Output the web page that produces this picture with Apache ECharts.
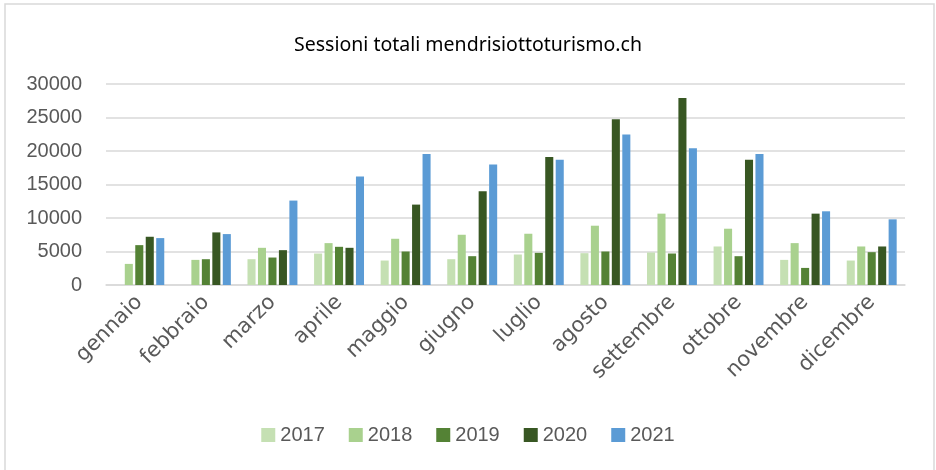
<!DOCTYPE html>
<html>
<head>
<meta charset="utf-8">
<script src="https://cdn.jsdelivr.net/npm/echarts@6/dist/echarts.min.js"></script>
<style>
html,body{margin:0;padding:0;background:#fff;}
#chart{width:936px;height:470px;}
</style>
</head>
<body>
<div id="chart"></div>
<script>
const title = 'Sessioni totali mendrisiottoturismo.ch';
const months = ['gennaio','febbraio','marzo','aprile','maggio','giugno','luglio','agosto','settembre','ottobre','novembre','dicembre'];
const years = ['2017','2018','2019','2020','2021'];
const s2017 = [null, null, 3850, 4700, 3650, 3850, 4550, 4750, 4850, 5750, 3750, 3650];
const s2018 = [3150, 3750, 5550, 6250, 6900, 7500, 7650, 8850, 10650, 8400, 6250, 5750];
const s2019 = [5950, 3850, 4100, 5700, 5000, 4300, 4800, 5000, 4700, 4300, 2550, 4900];
const s2020 = [7200, 7850, 5200, 5550, 12000, 14000, 19100, 24750, 27900, 18700, 10650, 5750];
const s2021 = [7000, 7600, 12600, 16200, 19550, 18000, 18700, 22450, 20400, 19550, 11000, 9800];
const seriesData = [s2017, s2018, s2019, s2020, s2021];
const colors = ['#c5e0b3', '#a9d18e', '#548235', '#385723', '#5b9bd5'];

const chart = echarts.init(document.getElementById('chart'), null, {renderer: 'canvas'});
chart.setOption({
  animation: false,
  backgroundColor: '#fff',
  color: colors,
  title: {
    text: title,
    left: 'center',
    top: 30,
    textStyle: {fontFamily: 'Noto Sans', fontSize: 19.5, fontWeight: 'normal', color: '#000'}
  },
  graphic: [{
    type: 'rect',
    shape: {x: 5, y: 4, width: 929, height: 480},
    style: {fill: 'none', stroke: '#d9d9d9', lineWidth: 1.5},
    silent: true
  }],
  legend: {
    bottom: 20,
    left: 'center',
    itemWidth: 14,
    itemHeight: 14,
    itemGap: 24,
    icon: 'rect',
    textStyle: {fontFamily: 'Liberation Sans', fontSize: 20, color: '#595959'},
    data: years
  },
  grid: {left: 106, right: 31, top: 84, bottom: 185, containLabel: false},
  xAxis: {
    type: 'category',
    data: months,
    axisLine: {lineStyle: {color: '#d9d9d9', width: 1.5}},
    axisTick: {show: false},
    axisLabel: {
      rotate: 45,
      interval: 0,
      margin: 14,
      fontFamily: 'DejaVu Sans',
      fontSize: 21,
      color: '#595959'
    }
  },
  yAxis: {
    type: 'value',
    min: 0,
    max: 30000,
    interval: 5000,
    axisLine: {show: false},
    axisTick: {show: false},
    splitLine: {lineStyle: {color: '#d9d9d9', width: 1.5}},
    axisLabel: {fontFamily: 'Liberation Sans', fontSize: 20, color: '#595959', margin: 24,
      formatter: v => String(v)}
  },
  series: years.map((y, i) => ({
    name: y,
    type: 'bar',
    data: seriesData[i],
    barGap: '30%',
    barCategoryGap: '25%'
  }))
});
</script>
</body>
</html>
